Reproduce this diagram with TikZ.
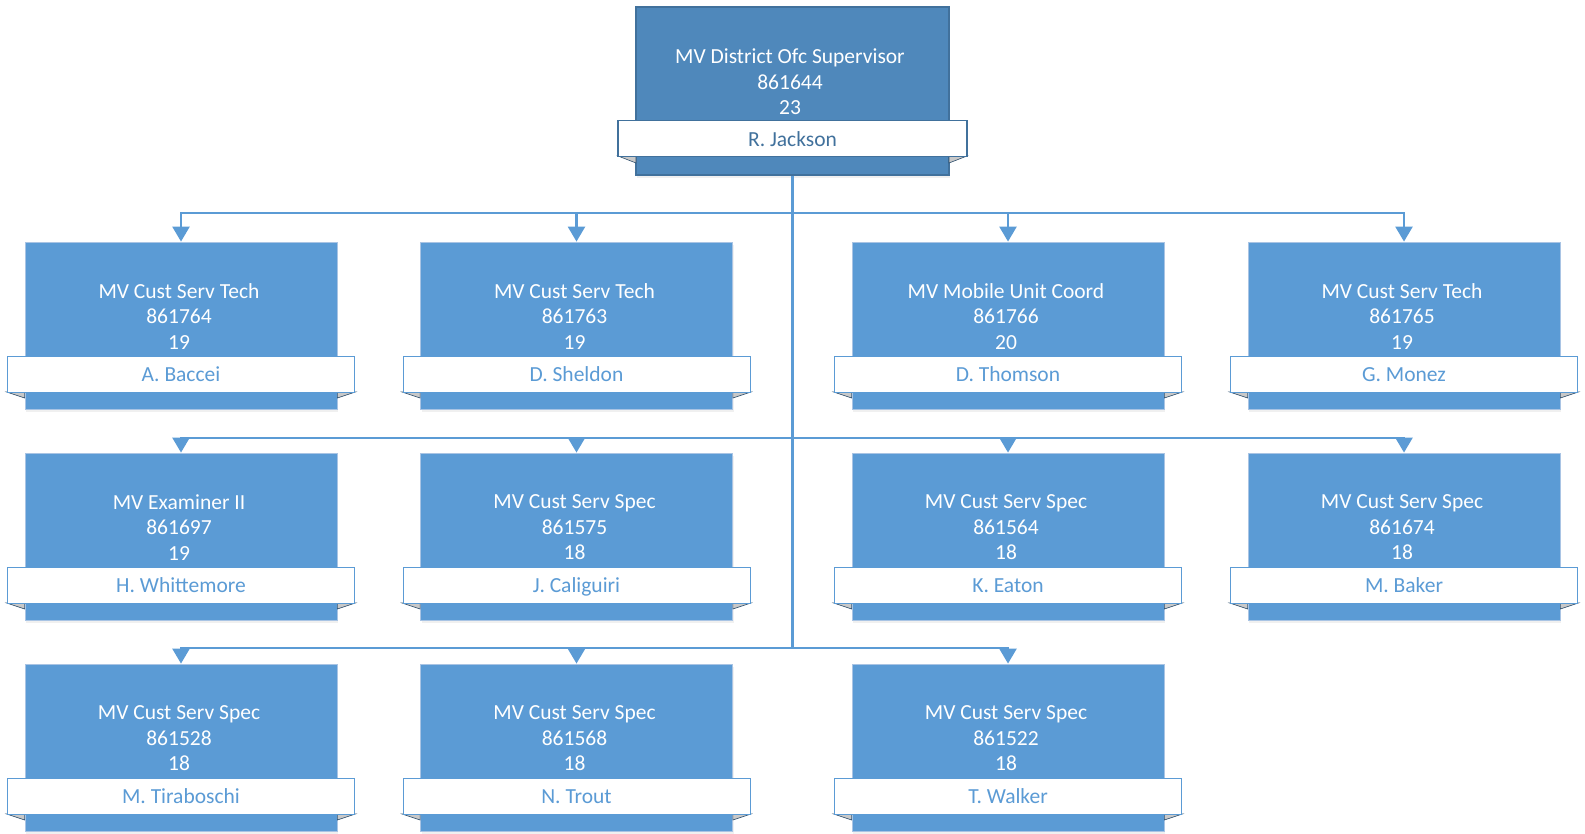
\documentclass[tikz,border=0pt]{standalone}
\usepackage{fontspec}
\setmainfont{Carlito}
\usetikzlibrary{arrows.meta, calc, shadows}
\definecolor{TopFill}{HTML}{4F88BB}
\definecolor{TopEdge}{HTML}{41719C}
\definecolor{BoxFill}{HTML}{5B9BD5}
\definecolor{BoxEdge}{HTML}{A9C4E4}
\definecolor{LinkBlue}{HTML}{5B9BD5}
\definecolor{FoldGray}{HTML}{C8C8C8}
\tikzstyle{posbox} = [rectangle, minimum width=312pt, minimum height=167pt, inner sep=0pt, draw=BoxEdge, line width=0.8pt, fill=BoxFill, drop shadow={opacity=0.12, shadow xshift=1pt, shadow yshift=-3pt}]
\tikzstyle{headbox} = [posbox, minimum width=313pt, minimum height=168pt, draw=TopEdge, line width=1.2pt, fill=TopFill]
\tikzstyle{nameband} = [rectangle, minimum width=347pt, minimum height=36pt, inner sep=0pt, text height=17.5pt, text depth=2pt, draw=BoxFill, line width=1pt, fill=white, text=BoxFill]
\tikzstyle{headband} = [nameband, minimum width=349pt, draw=TopEdge, line width=1.3pt, text=TopEdge]
\tikzstyle{jobtext} = [align=center, text=white, inner sep=0pt]
\tikzstyle{link} = [line width=2.5pt, draw=LinkBlue]
\tikzstyle{arrow} = [link, -{Triangle[width=17pt,length=15pt]}]
\tikzstyle{fold} = [fill=FoldGray, draw=TopEdge!70!black, line width=0.6pt]

\begin{document}
\begin{tikzpicture}[x=1pt, y=-1pt, font=\fontsize{21.5}{25.5}\selectfont]
\useasboundingbox (0,0) rectangle (1585,834);

% head of the office
\node (top) [headbox] at (792.5, 91) {};
\draw [fold] (618,156) -- (636,156) -- (636,163) -- cycle;
\draw [fold] (967,156) -- (949,156) -- (949,163) -- cycle;
\node (topname) [headband] at (792.5, 138.5) {R. Jackson};
\node (toptext) [jobtext] at (790, 82) {MV District Ofc Supervisor\\861644\\23};

% bus lines
\coordinate (bus1) at (0,213);
\coordinate (bus2) at (0,438);
\coordinate (bus3) at (0,648);
\draw [link] (top.south) -- (top.south |- bus3);

\foreach \n/\row/\cx/\ty/\ttl/\num/\gr/\who in {
  1/1/181/242/MV Cust Serv Tech/861764/19/A. Baccei,
  2/1/576.5/242/MV Cust Serv Tech/861763/19/D. Sheldon,
  3/1/1008/242/MV Mobile Unit Coord/861766/20/D. Thomson,
  4/1/1404/242/MV Cust Serv Tech/861765/19/G. Monez,
  5/2/181/453/MV Examiner II/861697/19/H. Whittemore,
  6/2/576.5/453/MV Cust Serv Spec/861575/18/J. Caliguiri,
  7/2/1008/453/MV Cust Serv Spec/861564/18/K. Eaton,
  8/2/1404/453/MV Cust Serv Spec/861674/18/M. Baker,
  9/3/181/664/MV Cust Serv Spec/861528/18/M. Tiraboschi,
  10/3/576.5/664/MV Cust Serv Spec/861568/18/N. Trout,
  11/3/1008/664/MV Cust Serv Spec/861522/18/T. Walker}
{
  \node (b\n) [posbox] at (\cx, \ty+83.5) {};
  \draw [fold] (b\n.west |- 0,\ty+150) -- ++(-18,0) -- ++(18,6) -- cycle;
  \draw [fold] (b\n.east |- 0,\ty+150) -- ++(18,0) -- ++(-18,6) -- cycle;
  \node (n\n) [nameband] at (\cx, \ty+132) {\who};
  \node (t\n) [jobtext] at (\cx-2, \ty+74.5) {\ttl\\\num\\\gr};
  \draw [arrow] (top.south |- bus\row) -| (b\n.north);
}

\end{tikzpicture}
\end{document}
